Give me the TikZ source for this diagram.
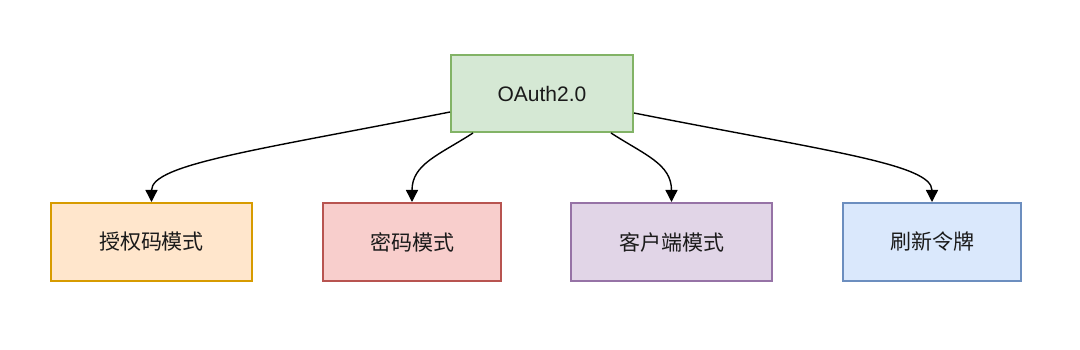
\documentclass[tikz,border=0pt]{standalone}
\usepackage{fontspec}
\setmainfont{Liberation Sans}
\newfontfamily\cjk{Noto Sans CJK SC}
\usetikzlibrary{arrows.meta}
\definecolor{gfill}{HTML}{D5E8D4}\definecolor{gdraw}{HTML}{82B366}
\definecolor{ofill}{HTML}{FFE6CC}\definecolor{odraw}{HTML}{D79B00}
\definecolor{rfill}{HTML}{F8CECC}\definecolor{rdraw}{HTML}{B85450}
\definecolor{pfill}{HTML}{E1D5E7}\definecolor{pdraw}{HTML}{9673A6}
\definecolor{bfill}{HTML}{DAE8FC}\definecolor{bdraw}{HTML}{6C8EBF}
\definecolor{txt}{HTML}{1A1A1A}
\tikzset{
  box/.style={rectangle, line width=2pt, minimum height=78pt, inner sep=0pt, text=txt,
    font=\fontsize{21}{25}\selectfont},
  link/.style={line width=1.4pt, -{Triangle[width=12pt,length=12pt]}, draw=black}
}
\begin{document}
\begin{tikzpicture}[x=1pt,y=-1pt]
\useasboundingbox (0,0) rectangle (1080,350);
\node[box, draw=gdraw, fill=gfill, minimum width=182pt, minimum height=77pt] (top) at (542,93.5) {OAuth2.0};
\node[box, draw=odraw, fill=ofill, minimum width=201pt, font=\fontsize{21}{25}\selectfont\cjk] (b1) at (151.5,242) {授权码模式};
\node[box, draw=rdraw, fill=rfill, minimum width=178pt, font=\fontsize{21}{25}\selectfont\cjk] (b2) at (412,242) {密码模式};
\node[box, draw=pdraw, fill=pfill, minimum width=201pt, font=\fontsize{21}{25}\selectfont\cjk] (b3) at (671.5,242) {客户端模式};
\node[box, draw=bdraw, fill=bfill, minimum width=178pt, font=\fontsize{21}{25}\selectfont\cjk] (b4) at (932,242) {刷新令牌};
\draw[link] ([yshift=-18.5pt]top.west) .. controls +(-192pt,-38pt) and +(0pt,38pt) .. (b1.north);
\draw[link] ([xshift=23pt]top.south west) .. controls +(-34pt,-22pt) and +(0pt,38pt) .. (b2.north);
\draw[link] ([xshift=-23pt]top.south east) .. controls +(34pt,-22pt) and +(0pt,38pt) .. (b3.north);
\draw[link] ([yshift=-19.5pt]top.east) .. controls +(192pt,-38pt) and +(0pt,38pt) .. (b4.north);
\end{tikzpicture}
\end{document}
